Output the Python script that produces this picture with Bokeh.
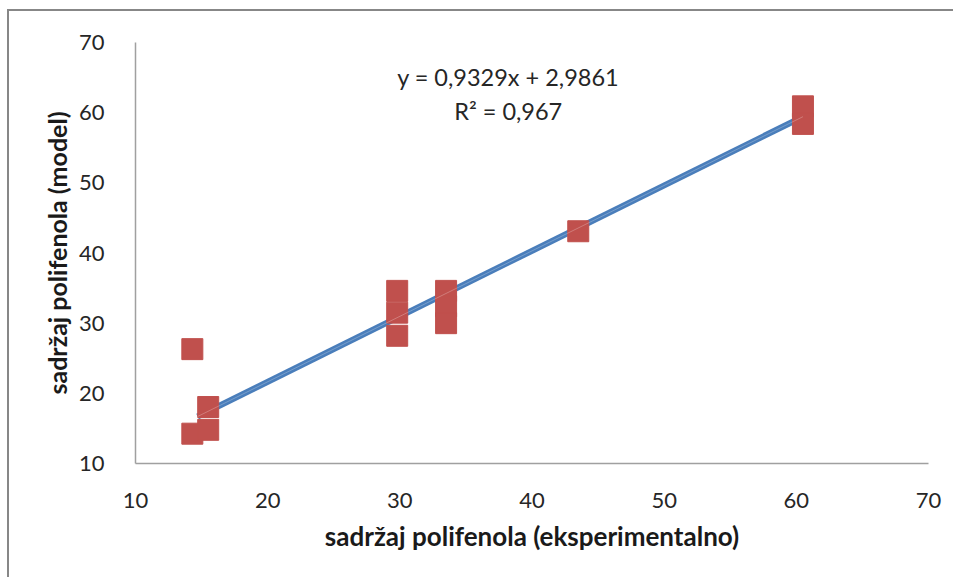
from bokeh.plotting import figure
from bokeh.models import Range1d, FixedTicker, Label
from bokeh.embed import file_html
from bokeh.resources import INLINE

# --- data ---
exp_vals = [14.3, 14.3, 15.5, 15.5, 29.8, 29.8, 29.8, 33.5, 33.5, 33.5, 43.5, 60.5, 60.5]
model_vals = [26.3, 14.25, 18.05, 14.8, 34.6, 31.5, 28.2, 34.6, 32.4, 30.0, 43.1, 60.9, 58.4]
slope = 0.9329
intercept = 2.9861
trend_x = [14.7, 60.5]
r2_text = "R² = 0,967"
eq_text = "y = 0,9329x + 2,9861"
ticks = [10, 20, 30, 40, 50, 60, 70]
x_title = "sadržaj polifenola (eksperimentalno)"
y_title = "sadržaj polifenola (model)"

FONT = "Lato"

p = figure(
    frame_width=793, frame_height=421,
    min_border_left=126, min_border_top=31, min_border_right=25, min_border_bottom=114,
    x_range=Range1d(10, 70), y_range=Range1d(10, 70),
    output_backend="svg", toolbar_location=None,
)
p.styles = {"border-left": "2px solid #878787", "border-top": "2px solid #878787",
            "margin-top": "9px", "margin-left": "7px"}
p.xgrid.grid_line_color = None
p.ygrid.grid_line_color = None
p.outline_line_color = None
p.background_fill_color = "white"
p.border_fill_color = "white"

for ax in (p.xaxis[0], p.yaxis[0]):
    ax.ticker = FixedTicker(ticks=ticks)
    ax.major_tick_line_color = None
    ax.minor_tick_line_color = None
    ax.axis_line_color = "#a0a0a0"
    ax.axis_line_width = 1.5
    ax.major_label_text_font = FONT
    ax.major_label_text_font_size = "22px"
    ax.major_label_text_color = "#262626"
    ax.axis_label_text_font = FONT
    ax.axis_label_text_font_style = "bold"
    ax.axis_label_text_color = "#1a1a1a"

p.xaxis.axis_label = x_title
p.yaxis.axis_label = y_title
p.xaxis.axis_label_text_font_size = "26px"
p.yaxis.axis_label_text_font_size = "25px"
p.xaxis.major_label_standoff = 23
p.yaxis.major_label_standoff = 25
p.xaxis.axis_label_standoff = 9
p.yaxis.axis_label_standoff = 4

# trend line
ty = [slope * v + intercept for v in trend_x]
p.line(trend_x, ty, line_color="#4A7EBB", line_width=6)

# data markers
p.scatter(exp_vals, model_vals, marker="square", size=21,
          fill_color="#C0504D", line_color="#C0504D", line_width=1)

# thin light line on top
p.line(trend_x, ty, line_color="white", line_width=1, line_alpha=0.25)

p.add_layout(Label(x=38.2, y=65.1, text=eq_text, text_align="center", text_baseline="middle",
                   text_font=FONT, text_font_size="23.5px", text_color="#262626"))
p.add_layout(Label(x=38.2, y=60.2, text=r2_text, text_align="center", text_baseline="middle",
                   text_font=FONT, text_font_size="23.5px", text_color="#262626"))

open("out.html", "w").write(file_html(p, INLINE))
